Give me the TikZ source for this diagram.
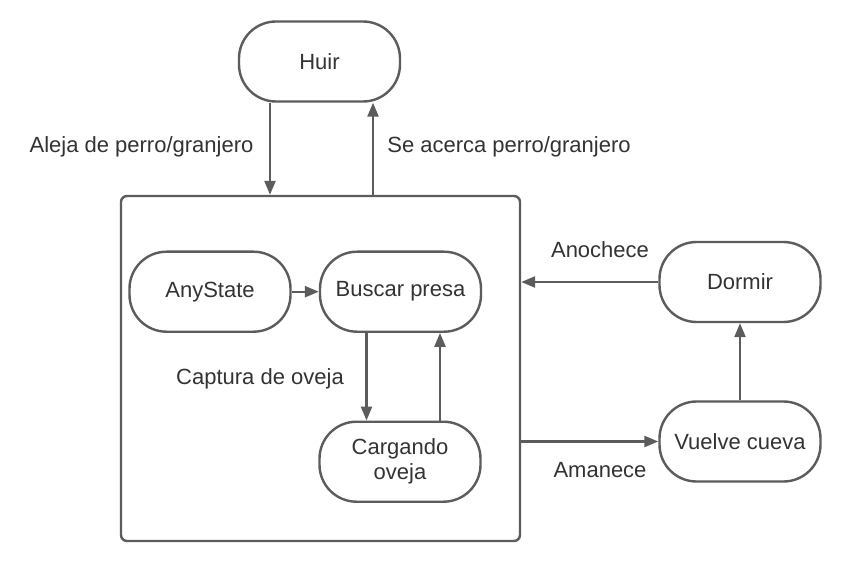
\documentclass[tikz,border=0pt]{standalone}
\usepackage{fontspec}
\setmainfont{Liberation Sans}
\usetikzlibrary{arrows.meta}
\definecolor{lc}{HTML}{5C5C5C}
\definecolor{tc}{HTML}{333333}
\tikzset{
  state/.style={draw=lc, line width=2.4bp, rounded corners=37bp,
    minimum width=161bp, minimum height=80bp, inner sep=0pt,
    align=center, text=tc, font=\fontsize{22bp}{25bp}\selectfont},
  container/.style={draw=lc, line width=2.4bp, rounded corners=6bp,
    minimum width=399bp, minimum height=345bp, inner sep=0pt},
  arr/.style={draw=lc, line width=2.4bp, -{Triangle[length=14bp,width=11bp]}},
  lbl/.style={text=tc, font=\fontsize{22bp}{25bp}\selectfont, anchor=base, inner sep=0pt}
}
\begin{document}
\begin{tikzpicture}[x=1bp,y=-1bp]
\useasboundingbox[fill=white] (0,0) rectangle (841,563);
\node[container] (box) at (320.5,368.5) {};
\node[state] (huir) at (319.5,61.5) {Huir};
\node[state] (any) at (210,291.7) {AnyState};
\node[state] (buscar) at (400.5,291.7) {Buscar presa};
\node[state] (cargando) at (400,461.7) {Cargando\\oveja};
\node[state] (dormir) at (740,282) {Dormir};
\node[state] (vuelve) at (740,441.5) {Vuelve cueva};

\draw[arr] ([xshift=-49.5bp]huir.south) -- ([xshift=-49.5bp]huir.south |- box.north);
\draw[arr] ([xshift=53.5bp]huir.south |- box.north) -- ([xshift=53.5bp]huir.south);
\draw[arr] (any.east) -- (buscar.west);
\draw[arr] ([xshift=-34bp]buscar.south) -- ([xshift=-34bp]buscar.south |- cargando.north);
\draw[arr] ([xshift=39.5bp]buscar.south |- cargando.north) -- ([xshift=39.5bp]buscar.south);
\draw[arr] (dormir.west) -- (dormir.west -| box.east);
\draw[arr] (vuelve.west -| box.east) -- (vuelve.west);
\draw[arr] (vuelve.north) -- (dormir.south);

\node[lbl] (l1) at (141.5,152.3) {Aleja de perro/granjero};
\node[lbl] (l2) at (509,152.3) {Se acerca perro/granjero};
\node[lbl] (l3) at (260,384) {Captura de oveja};
\node[lbl] (l4) at (600,257.7) {Anochece};
\node[lbl] (l5) at (600,477.7) {Amanece};
\end{tikzpicture}
\end{document}
